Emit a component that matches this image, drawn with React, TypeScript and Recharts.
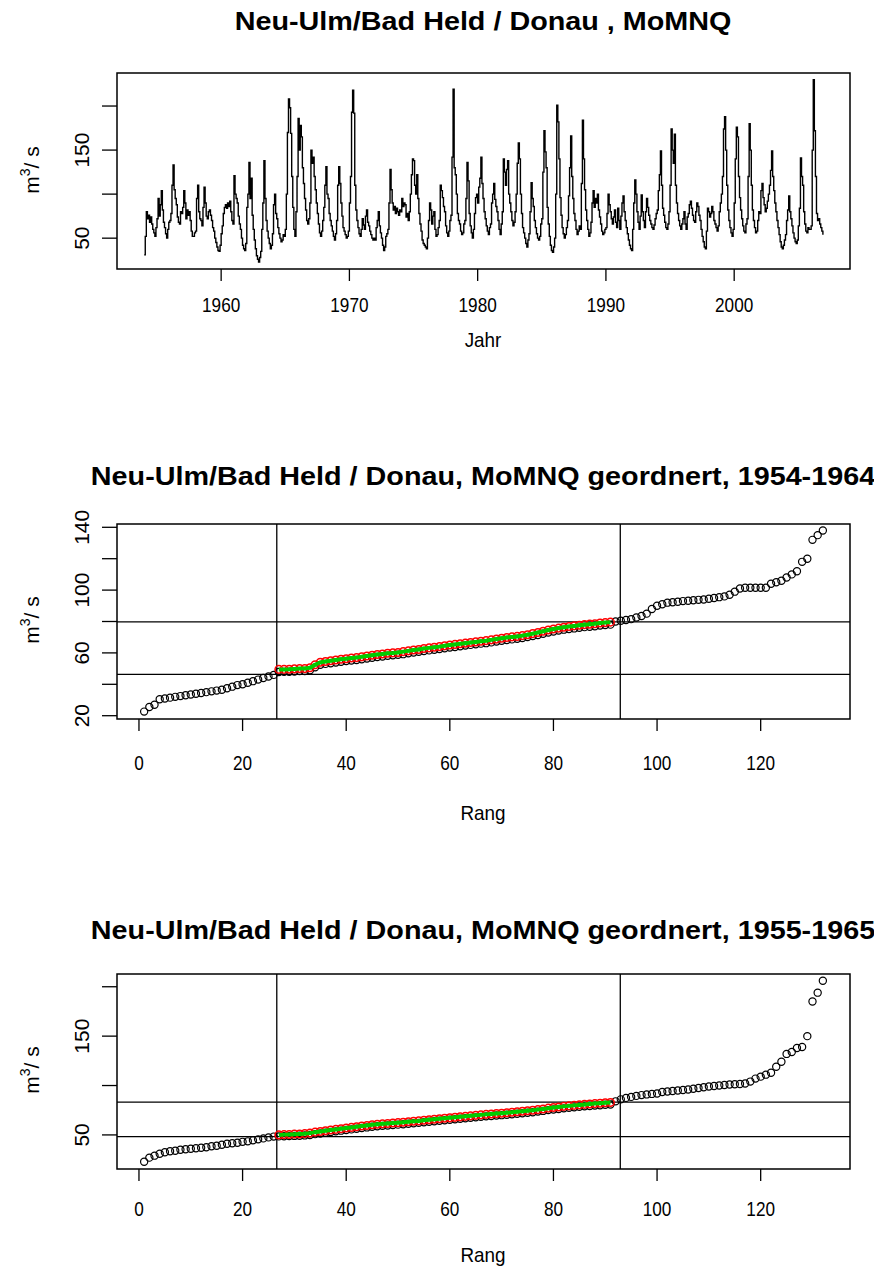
import React from "react";
import {
  ComposedChart,
  Line,
  Scatter,
  XAxis,
  YAxis,
  ReferenceLine,
  ReferenceArea,
} from "recharts";

const FONT = '"Liberation Sans", Arial, sans-serif';

// monthly MoMNQ, Neu-Ulm/Bad Held, one row per year (Jan..Dec), starting 1954
const startYear = 1954;
const moMNQ: number[][] = [
  [31, 52, 80, 72, 76, 68, 74, 66, 60, 56, 52, 62],
  [72, 95, 75, 88, 104, 82, 68, 62, 55, 50, 60, 68],
  [70, 78, 110, 133, 105, 95, 88, 74, 68, 66, 80, 78],
  [85, 104, 90, 72, 82, 76, 80, 70, 58, 52, 52, 56],
  [58, 95, 110, 80, 72, 70, 64, 85, 108, 90, 75, 72],
  [80, 82, 76, 70, 62, 58, 50, 45, 40, 36, 35, 42],
  [55, 64, 78, 85, 88, 84, 90, 86, 92, 80, 70, 66],
  [121, 100, 95, 90, 75, 66, 60, 50, 42, 38, 36, 44],
  [85, 100, 136, 95, 118, 76, 60, 48, 38, 30, 26, 23],
  [28, 35, 60, 90, 138, 95, 70, 58, 50, 44, 38, 42],
  [55, 88, 100, 78, 72, 62, 55, 50, 46, 48, 54, 52],
  [60, 100, 170, 208, 198, 169, 120, 85, 60, 52, 80, 120],
  [186, 150, 178, 165, 130, 112, 95, 82, 70, 66, 72, 90],
  [150, 135, 142, 120, 105, 90, 78, 66, 56, 52, 58, 70],
  [85, 110, 131, 100, 95, 78, 70, 64, 58, 52, 48, 55],
  [70, 110, 131, 112, 90, 75, 62, 58, 54, 50, 52, 58],
  [90, 120, 193, 218, 192, 110, 82, 70, 62, 55, 52, 60],
  [72, 65, 60, 75, 82, 68, 64, 58, 54, 50, 48, 50],
  [48, 62, 70, 80, 64, 56, 50, 42, 36, 40, 52, 55],
  [60, 90, 128, 105, 90, 82, 86, 78, 84, 80, 76, 82],
  [80, 95, 86, 90, 88, 74, 78, 70, 80, 100, 122, 140],
  [138, 110, 100, 122, 95, 78, 66, 58, 48, 44, 42, 40],
  [38, 50, 70, 90, 82, 66, 75, 80, 60, 52, 54, 62],
  [70, 110, 104, 96, 86, 80, 64, 56, 52, 58, 70, 76],
  [142, 219, 130, 122, 100, 78, 70, 66, 58, 54, 56, 66],
  [70, 95, 136, 115, 78, 64, 56, 50, 60, 78, 96, 100],
  [90, 108, 118, 142, 112, 95, 80, 72, 64, 58, 54, 62],
  [66, 90, 100, 112, 94, 86, 80, 70, 60, 54, 66, 80],
  [140, 125, 110, 128, 138, 100, 90, 80, 70, 64, 68, 80],
  [100, 135, 158, 140, 100, 78, 62, 56, 50, 44, 40, 48],
  [55, 80, 113, 95, 86, 70, 62, 55, 50, 48, 52, 66],
  [72, 125, 172, 148, 130, 85, 66, 52, 42, 36, 34, 40],
  [50, 100, 201, 182, 140, 96, 76, 62, 55, 50, 54, 62],
  [70, 98, 130, 166, 120, 95, 78, 70, 60, 54, 58, 64],
  [60, 112, 184, 140, 105, 82, 70, 60, 52, 56, 68, 90],
  [104, 85, 95, 90, 100, 82, 74, 66, 58, 54, 56, 60],
  [62, 78, 100, 88, 80, 72, 66, 74, 82, 68, 62, 84],
  [70, 60, 75, 90, 98, 80, 70, 62, 55, 48, 42, 38],
  [36, 60, 90, 116, 100, 80, 68, 60, 75, 99, 80, 70],
  [62, 80, 95, 85, 76, 70, 66, 62, 60, 65, 72, 78],
  [82, 104, 122, 149, 110, 84, 76, 68, 62, 60, 66, 80],
  [110, 174, 150, 135, 168, 110, 90, 78, 70, 64, 60, 66],
  [72, 80, 66, 60, 74, 78, 88, 92, 84, 76, 70, 68],
  [80, 90, 86, 76, 70, 60, 52, 46, 40, 38, 58, 84],
  [80, 74, 78, 86, 80, 70, 66, 62, 58, 64, 80, 90],
  [100, 120, 174, 188, 150, 110, 82, 70, 62, 56, 52, 60],
  [90, 140, 176, 165, 120, 96, 82, 72, 64, 58, 56, 66],
  [72, 120, 180, 150, 110, 82, 70, 62, 56, 58, 70, 80],
  [78, 104, 112, 96, 88, 80, 84, 92, 100, 110, 127, 149],
  [120, 104, 90, 80, 70, 62, 54, 46, 40, 38, 42, 48],
  [54, 70, 82, 98, 80, 72, 64, 56, 50, 46, 44, 48],
  [64, 84, 141, 120, 110, 80, 66, 58, 56, 62, 60, 60],
  [64, 150, 230, 172, 120, 78, 70, 72, 66, 62, 58, 54],
];
const yearTicks = [1960, 1970, 1980, 1990, 2000];

// sorted MoMNQ 1954-1964 (rank 1..132): lower part, middle band, upper part
const p2Low = [22.6, 25.5, 27, 30.5, 31, 31.5, 32, 32.5, 33, 33.5, 34, 34.5, 35, 35.5, 36, 36.5, 37.5, 38.5, 39.5, 40, 41, 42, 43, 44, 45, 46];
const p2Mid = [
  47.8, 47.9, 48, 48.2, 48.4, 48.5, 49, 50.8, 52.4, 53,
  53.4, 53.9, 54.4, 54.8, 55.2, 55.5, 55.9, 56.4, 56.9, 57.4,
  57.7, 58.2, 58.5, 58.8, 59.2, 59.7, 60.2, 60.7, 61.2, 61.6,
  62, 62.5, 63, 63.4, 63.8, 64.2, 64.7, 65.1, 65.5, 65.9,
  66.2, 66.7, 67.2, 67.7, 68.2, 68.6, 69, 69.5, 70.1, 70.7,
  71.4, 72.2, 73, 73.6, 74.2, 74.8, 75.2, 75.6, 76, 76.4,
  76.7, 77, 77.4, 77.7, 78,
];
const p2High = [
  80, 80.5, 81, 81.5, 82.5, 83.5, 85, 88, 90, 91,
  92, 92.3, 92.6, 93, 93.2, 93.5, 93.8, 94, 94.5, 95,
  95.5, 96, 97, 99, 101, 101.5, 101.5, 101.5, 101.5, 101.5,
  104, 105, 106, 108, 110, 112, 118, 120, 132, 135,
  138,
];
// highlighted band (red circles, green line), ranks 27..91
const p2Red = [
  49.5, 49.5, 49.6, 49.8, 50, 50, 50.5, 52.5, 54, 54.5,
  55, 55.5, 56, 56.3, 56.8, 57, 57.5, 58, 58.5, 59,
  59.3, 59.8, 60, 60.3, 60.8, 61.3, 61.8, 62.2, 62.8, 63.2,
  63.6, 64, 64.5, 65, 65.4, 65.8, 66.2, 66.6, 67, 67.4,
  67.8, 68.3, 68.8, 69.3, 69.8, 70.2, 70.5, 71, 71.6, 72.3,
  73, 73.8, 74.6, 75.2, 75.8, 76.3, 76.8, 77.2, 77.6, 78,
  78.3, 78.6, 79, 79.3, 79.6,
];
const p2HLines = [46.3, 79.7];

// sorted MoMNQ 1955-1965
const p3Low = [22.9, 27, 29, 31, 32.5, 33.5, 34, 35, 35.5, 36, 36.5, 37, 37.5, 38.5, 39, 40, 41, 41.5, 42, 43, 43.5, 44.5, 45.5, 46.5, 47.5, 48.3];
const p3Mid = [
  48.5, 48.6, 48.8, 49, 49.2, 49.5, 49.9, 50.8, 51.5, 52.2,
  53, 53.6, 54.3, 55, 55.6, 56.3, 57, 57.6, 58.3, 58.8,
  59.2, 59.6, 60, 60.4, 60.8, 61.3, 61.8, 62.2, 62.8, 63.3,
  63.9, 64.4, 64.8, 65.3, 65.8, 66.3, 66.8, 67.3, 67.8, 68.3,
  68.8, 69.2, 69.6, 70, 70.4, 70.9, 71.4, 71.9, 72.4, 72.9,
  73.6, 74.3, 75.1, 75.7, 76.3, 76.9, 77.4, 77.9, 78.4, 78.9,
  79.3, 79.7, 80.1, 80.5, 80.8,
];
const p3High = [
  84, 86, 87.5, 88.5, 89.5, 90.3, 91, 91.5, 92, 93.5,
  94, 94.5, 95, 95.5, 96, 96.8, 97.5, 98.2, 99, 99.5,
  100, 100.5, 101, 101.3, 101.6, 102, 104, 107, 109, 111,
  113, 119, 124, 132, 134, 138, 139, 150, 185, 194,
  206,
];
const p3Red = [
  50, 50.3, 50.5, 50.8, 51, 51.3, 51.8, 52.8, 53.5, 54.2,
  55, 55.6, 56.3, 57, 57.6, 58.3, 59, 59.6, 60.3, 60.8,
  61.2, 61.6, 62, 62.4, 62.8, 63.3, 63.8, 64.2, 64.8, 65.3,
  65.9, 66.4, 66.8, 67.3, 67.8, 68.3, 68.8, 69.3, 69.8, 70.3,
  70.8, 71.2, 71.6, 72, 72.4, 72.9, 73.4, 73.9, 74.4, 74.9,
  75.6, 76.3, 77.1, 77.7, 78.3, 78.9, 79.4, 79.9, 80.4, 80.9,
  81.3, 81.7, 82.1, 82.5, 82.8,
];
const p3HLines = [48.3, 83.2];

const bandStart = 27;
const rankVLines = [26.6, 92.9];
const rankTicks = [0, 20, 40, 60, 80, 100, 120];

const monthly = moMNQ.flatMap((row, i) =>
  row.map((q, m) => ({ t: startYear + i + m / 12, q }))
);
const toRanked = (vals: number[], first = 1) => vals.map((v, i) => ({ r: i + first, v }));

const tickLine = { stroke: "#000", strokeWidth: 1.3 };

const xTick = (offset: number) => (props: any) => {
  const { x, y, payload } = props;
  return (
    <text
      transform={`translate(${x},${y + offset}) scale(0.86,1)`}
      textAnchor="middle"
      fontSize={20}
      fontFamily={FONT}
      fill="#000"
    >
      {payload.value}
    </text>
  );
};

const yTick = (shown: number[]) => (props: any) => {
  const { x, y, payload } = props;
  if (!shown.includes(payload.value)) return <g />;
  return (
    <text
      transform={`translate(${x - 21},${y}) rotate(-90)`}
      dy="0.36em"
      textAnchor="middle"
      fontSize={21}
      fontFamily={FONT}
      fill="#000"
    >
      {payload.value}
    </text>
  );
};

const ring = (color: string, r: number, w: number) => (props: any) => (
  <circle cx={props.cx} cy={props.cy} r={r} fill="none" stroke={color} strokeWidth={w} />
);
const noMark = () => <g />;

const MARGIN = { top: 73, right: 24, bottom: 0, left: 0 };
const MARGIN2 = { top: 74, right: 24, bottom: 0, left: 0 };

function SeriesPanel() {
  const xd: [number, number] = [1951.88, 2009.03];
  const yd: [number, number] = [15, 237.5];
  return (
    <ComposedChart width={874} height={360} data={monthly} margin={MARGIN}>
      <XAxis
        dataKey="t"
        type="number"
        domain={xd}
        allowDataOverflow
        ticks={yearTicks}
        interval={0}
        tickSize={12}
        tickMargin={0}
        axisLine={false}
        tickLine={tickLine}
        tick={xTick(31)}
        height={91}
      />
      <YAxis
        type="number"
        domain={yd}
        allowDataOverflow
        ticks={[50, 100, 150, 200]}
        interval={0}
        tickSize={15}
        tickMargin={0}
        axisLine={false}
        tickLine={tickLine}
        tick={yTick([50, 150])}
        width={117}
      />
      <ReferenceArea x1={xd[0]} x2={xd[1]} y1={yd[0]} y2={yd[1]} fill="none" stroke="#000" strokeWidth={1.5} />
      <Line type="stepAfter" dataKey="q" stroke="#000" strokeWidth={1.4} dot={false} isAnimationActive={false} />
    </ComposedChart>
  );
}

function RankPanel({
  low,
  mid,
  high,
  red,
  hLines,
  yd,
  yTicks,
  yShown,
  labelOffset,
}: {
  low: number[];
  mid: number[];
  high: number[];
  red: number[];
  hLines: number[];
  yd: [number, number];
  yTicks: number[];
  yShown: number[];
  labelOffset: number;
}) {
  const xd: [number, number] = [-4.24, 137.24];
  const all = toRanked([...low, ...mid, ...high]);
  const band = toRanked(red, bandStart);
  return (
    <ComposedChart width={874} height={360} margin={MARGIN2}>
      <XAxis
        dataKey="r"
        type="number"
        domain={xd}
        allowDataOverflow
        ticks={rankTicks}
        interval={0}
        tickSize={12}
        tickMargin={0}
        axisLine={false}
        tickLine={tickLine}
        tick={xTick(labelOffset)}
        height={91}
      />
      <YAxis
        dataKey="v"
        type="number"
        domain={yd}
        allowDataOverflow
        ticks={yTicks}
        interval={0}
        tickSize={15}
        tickMargin={0}
        axisLine={false}
        tickLine={tickLine}
        tick={yTick(yShown)}
        width={117}
      />
      <ReferenceArea x1={xd[0]} x2={xd[1]} y1={yd[0]} y2={yd[1]} fill="none" stroke="#000" strokeWidth={1.5} />
      {rankVLines.map((x) => (
        <ReferenceLine key={`v${x}`} x={x} stroke="#000" strokeWidth={1.3} />
      ))}
      {hLines.map((y) => (
        <ReferenceLine key={`h${y}`} y={y} stroke="#000" strokeWidth={1.3} />
      ))}
      <Scatter data={all} shape={ring("#000", 3.6, 1.2)} isAnimationActive={false} />
      <Scatter data={band} shape={ring("#FF0000", 3.8, 1.5)} isAnimationActive={false} />
      {/* green connecting line through the highlighted band, on top of the circles */}
      <Scatter
        data={band}
        shape={noMark}
        line={{ stroke: "#00CD00", strokeWidth: 4 }}
        lineType="joint"
        isAnimationActive={false}
      />
    </ComposedChart>
  );
}

const Title = ({ y, children }: { y: number; children: React.ReactNode }) => (
  <text
    transform={`translate(483,${y}) scale(1.15,1)`}
    textAnchor="middle"
    fontSize={25}
    fontWeight="bold"
    fontFamily={FONT}
    fill="#000"
  >
    {children}
  </text>
);

const AxisTitle = ({ y, children }: { y: number; children: React.ReactNode }) => (
  <text transform={`translate(483,${y}) scale(0.9,1)`} textAnchor="middle" fontSize={21} fontFamily={FONT} fill="#000">
    {children}
  </text>
);

const UnitLabel = ({ y }: { y: number }) => (
  <text transform={`translate(31,${y}) rotate(-90)`} dy="0.36em" textAnchor="middle" fontSize={21} fontFamily={FONT} fill="#000">
    m
    <tspan fontSize={14} dy={-9}>
      3
    </tspan>
    <tspan dy={9}>/ s</tspan>
  </text>
);

export default function App() {
  return (
    <div style={{ position: "absolute", left: 0, top: 0, width: 874, height: 1277, background: "#fff", overflow: "hidden" }}>
      <div style={{ position: "absolute", left: 0, top: 0 }}>
        <SeriesPanel />
      </div>
      <div style={{ position: "absolute", left: 0, top: 450 }}>
        <RankPanel
          low={p2Low}
          mid={p2Mid}
          high={p2High}
          red={p2Red}
          hLines={p2HLines}
          yd={[17.9, 142.1]}
          yTicks={[20, 40, 60, 80, 100, 120, 140]}
          yShown={[20, 60, 100, 140]}
          labelOffset={39}
        />
      </div>
      <div style={{ position: "absolute", left: 0, top: 900 }}>
        <RankPanel
          low={p3Low}
          mid={p3Mid}
          high={p3High}
          red={p3Red}
          hLines={p3HLines}
          yd={[15.5, 212.9]}
          yTicks={[50, 100, 150, 200]}
          yShown={[50, 150]}
          labelOffset={35}
        />
      </div>
      <svg width={874} height={1277} style={{ position: "absolute", left: 0, top: 0, pointerEvents: "none" }}>
        <Title y={30}>Neu-Ulm/Bad Held / Donau , MoMNQ</Title>
        <Title y={485}>Neu-Ulm/Bad Held / Donau, MoMNQ geordnert, 1954-1964</Title>
        <Title y={939}>Neu-Ulm/Bad Held / Donau, MoMNQ geordnert, 1955-1965</Title>
        <AxisTitle y={347}>Jahr</AxisTitle>
        <AxisTitle y={820}>Rang</AxisTitle>
        <AxisTitle y={1262}>Rang</AxisTitle>
        <UnitLabel y={170} />
        <UnitLabel y={620} />
        <UnitLabel y={1070} />
      </svg>
    </div>
  );
}
